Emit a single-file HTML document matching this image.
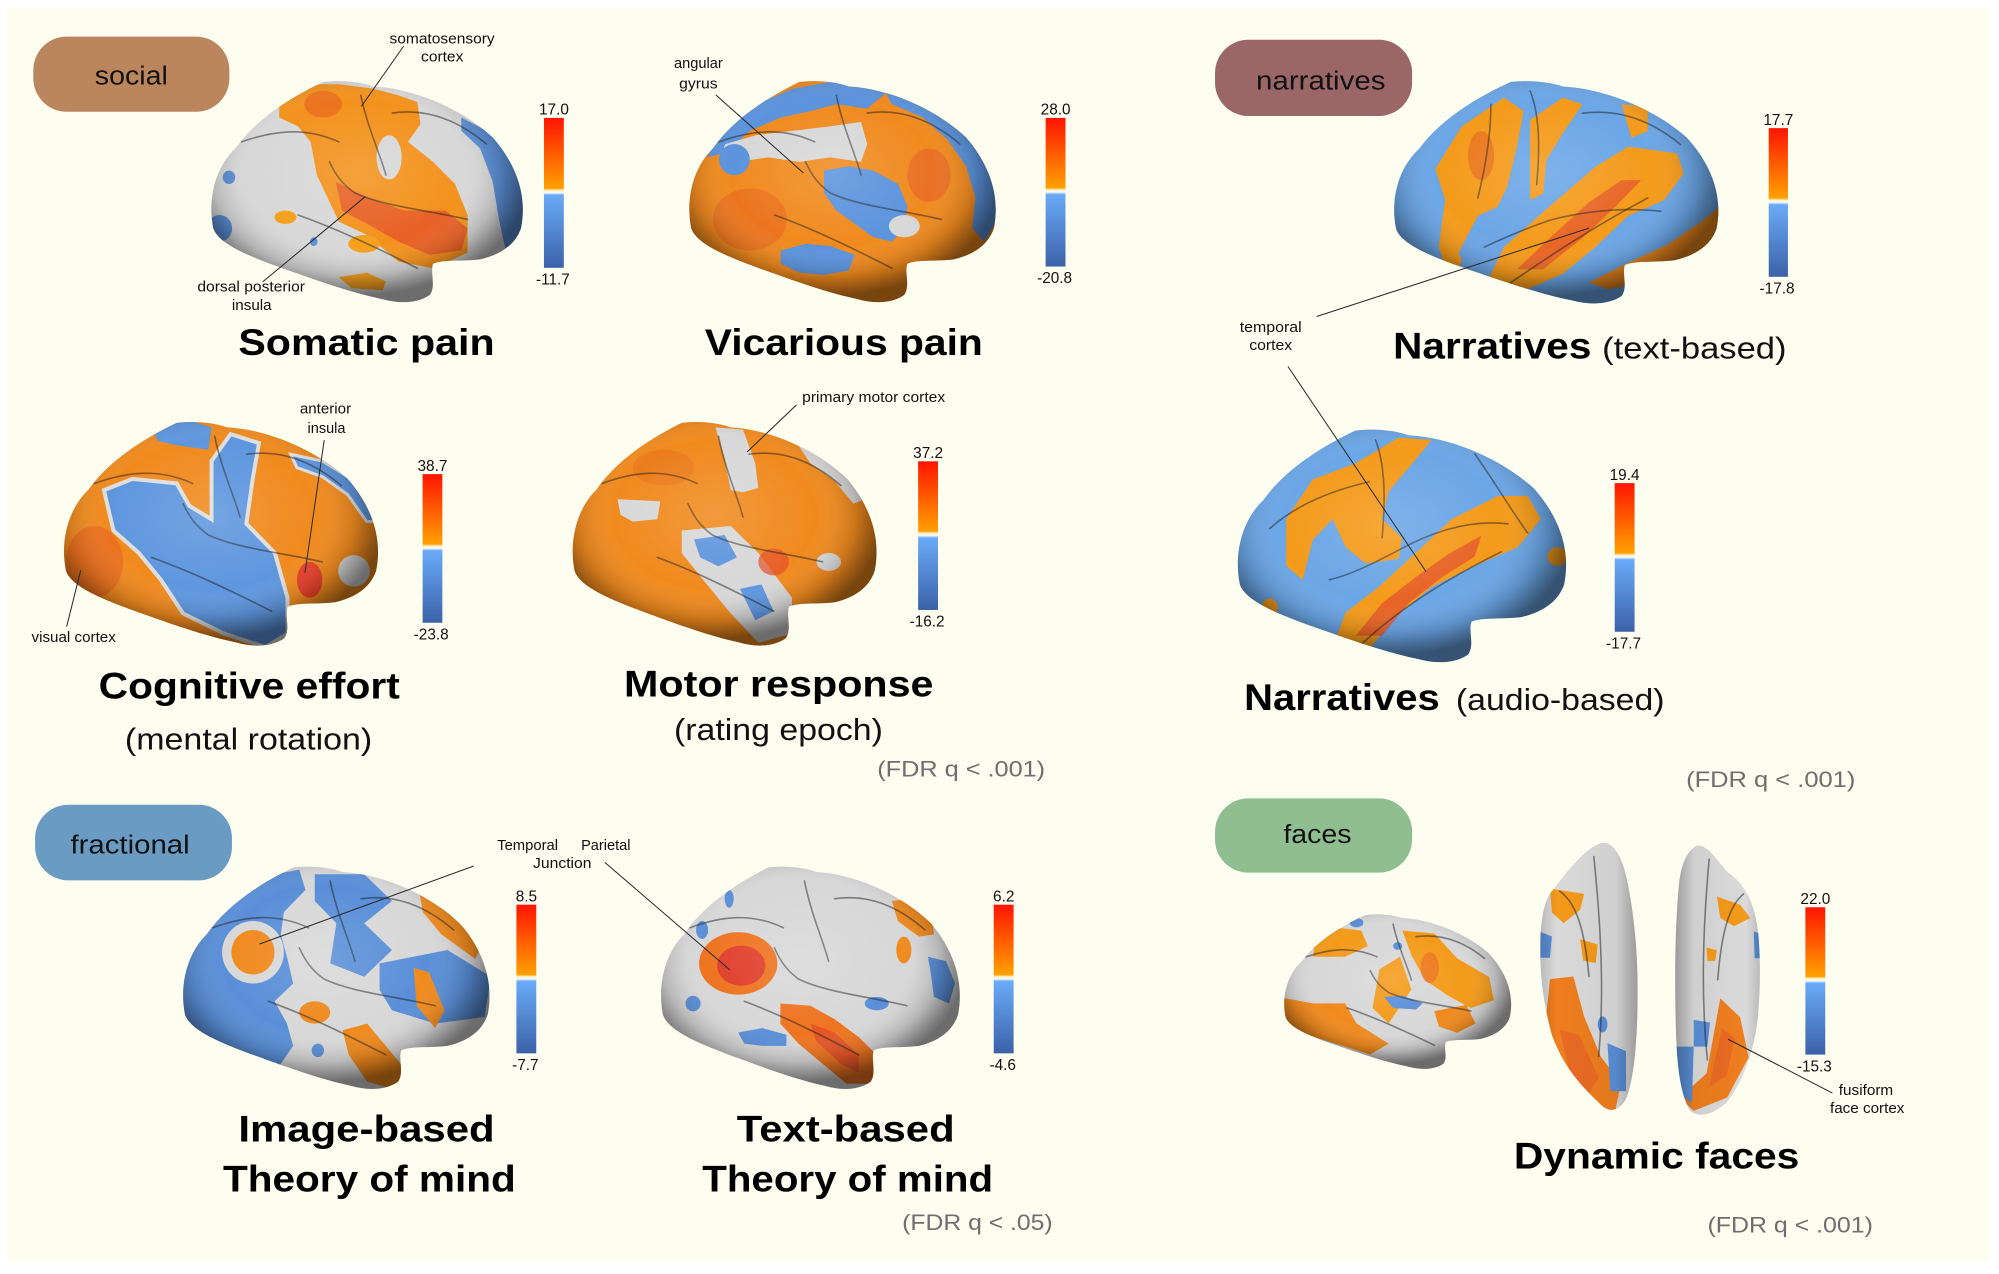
<!DOCTYPE html>
<html><head><meta charset="utf-8">
<style>
html,body{margin:0;padding:0;background:#fff;}
svg{display:block;}
text{font-family:"Liberation Sans",Arial,sans-serif;}
.s path{fill:none;stroke:#1c1c1c;stroke-opacity:.5;stroke-width:1.6;vector-effect:non-scaling-stroke;stroke-linecap:round;}
.ln{stroke:#2a2a2a;stroke-width:.8;fill:none;}
.ann{font-size:11.5px;fill:#111;}
.ttl{font-size:29px;font-weight:bold;fill:#000;}
.sub{font-size:24px;fill:#111;}
.fdr{font-size:17.5px;fill:#6e6e6e;}
.pill{font-size:20px;fill:#111;}
.cbl{font-size:12px;fill:#111;}
</style></head>
<body>
<svg width="1999" height="1274" viewBox="0 0 1560 994.2" preserveAspectRatio="none" xmlns="http://www.w3.org/2000/svg">
<defs>
<clipPath id="cl" clipPathUnits="userSpaceOnUse"><path d="M36,0 C42,-1 48,0 52,2 C65,3 80,12 90,25 C98,38 101,52 99,66 C97,74 92,78 86,80 C80,81 74,80 71,82 C70,86 72,92 70,96 C66,100 60,100 55,98 C45,95 35,90 27,86 C15,80 3,74 1,66 C-1,52 2,38 8,30 C14,18 24,8 36,0 Z"/></clipPath>
<clipPath id="cv1" clipPathUnits="userSpaceOnUse"><path d="M62,0 C72,-1 82,3 88,12 C96,25 100,40 100,55 C100,72 97,88 88,96 C80,101 70,101 62,98 C45,92 25,85 12,72 C3,60 0,50 0,40 C0,30 3,22 12,18 C25,12 45,2 62,0 Z"/></clipPath>
<clipPath id="cv2" clipPathUnits="userSpaceOnUse"><path d="M25,0 C15,2 8,6 5,14 C0,30 0,50 1,65 C2,80 5,92 18,99 C30,102 45,100 60,96 C75,90 90,80 96,66 C100,55 100,42 97,32 C92,20 80,14 62,10 C50,6 38,-1 25,0 Z"/></clipPath>
<radialGradient id="sh" cx=".47" cy=".42" r=".5">
<stop offset="0" stop-color="#fff" stop-opacity=".14"/>
<stop offset=".6" stop-color="#fff" stop-opacity="0"/>
<stop offset=".84" stop-color="#000" stop-opacity=".16"/>
<stop offset=".95" stop-color="#000" stop-opacity=".4"/>
<stop offset="1" stop-color="#000" stop-opacity=".5"/>
</radialGradient>
<linearGradient id="vsh" x1="0" y1="0" x2="1" y2="0">
<stop offset="0" stop-color="#000" stop-opacity=".2"/>
<stop offset=".2" stop-color="#000" stop-opacity="0"/>
<stop offset=".75" stop-color="#000" stop-opacity=".05"/>
<stop offset="1" stop-color="#000" stop-opacity=".35"/>
</linearGradient>
<linearGradient id="cb" x1="0" y1="0" x2="0" y2="1">
<stop offset="0" stop-color="#ff1400"/>
<stop offset=".47" stop-color="#ffa000"/>
<stop offset=".485" stop-color="#fff2cc"/>
<stop offset=".5" stop-color="#f4f8ff"/>
<stop offset=".515" stop-color="#6aaaf8"/>
<stop offset="1" stop-color="#3b62a8"/>
</linearGradient>
</defs>

<rect x="5.5" y="6.2" width="1547.5" height="978.6" fill="#fdfdf0"/>

<!-- pills -->
<rect x="26" y="28.6" width="153" height="58.6" rx="26" fill="#bb865d"/>
<text class="pill" x="74" y="66" textLength="57" lengthAdjust="spacingAndGlyphs">social</text>
<rect x="948.2" y="31" width="153.8" height="59.5" rx="26" fill="#9a6667"/>
<text class="pill" x="980.2" y="69.7" textLength="101" lengthAdjust="spacingAndGlyphs">narratives</text>
<rect x="27.4" y="628" width="153.6" height="59" rx="26" fill="#6a9bc3"/>
<text class="pill" x="55" y="666" textLength="93" lengthAdjust="spacingAndGlyphs">fractional</text>
<rect x="948.2" y="623" width="153.8" height="58" rx="26" fill="#8fbf91"/>
<text class="pill" x="1001.5" y="658" textLength="53.2" lengthAdjust="spacingAndGlyphs">faces</text>

<!-- Brain 1: Somatic pain -->
<g transform="translate(164,64) scale(2.45,1.73)">
<g clip-path="url(#cl)">
<rect x="-5" y="-5" width="110" height="110" fill="#d8d8d8"/>
<polygon fill="#f3921d" points="22,9 31,1 41,1 52,3 60,6 66,9 67,19 63,27 71,36 78,46 82,60 82,77 71,84 60,81 50,69 41,63 34,42 32,27 28,20 22,16"/>
<ellipse cx="57" cy="34" rx="4" ry="10" fill="#d8d8d8"/>
<polygon fill="#e4502a" opacity=".75" points="40,45 50,52 62,58 75,58 82,66 80,76 70,78 60,72 50,64 42,58"/>
<ellipse cx="36" cy="10" rx="6" ry="6" fill="#e8661e" opacity=".7"/>
<ellipse cx="24" cy="61" rx="3.5" ry="3" fill="#f5a01e"/>
<ellipse cx="49" cy="73" rx="5" ry="4" fill="#f5a01e"/>
<polygon fill="#f5a01e" points="41,88 50,86 56,90 55,94 45,93"/>
<polygon fill="#5b8fd6" points="80,16 88,22 95,32 99,45 100,60 98,72 94,75 92,62 90,45 86,30 80,22"/>
<ellipse cx="3" cy="66" rx="4" ry="6" fill="#5b8fd6"/>
<ellipse cx="6" cy="43" rx="2" ry="3" fill="#5b8fd6"/>
<ellipse cx="33" cy="72" rx="1.2" ry="2" fill="#5b8fd6"/>
<g class="s"><path d="M82,62 C70,58 55,56 46,50 C42,46 40,42 38,36"/><path d="M28,60 C40,66 52,74 66,84"/><path d="M10,27 C20,22 30,20 41,27"/><path d="M48,6 C50,20 54,32 56,42"/><path d="M58,14 C68,12 78,16 88,28"/></g>
<rect x="-5" y="-5" width="110" height="110" fill="url(#sh)"/>
</g></g>

<!-- Brain 2: Vicarious pain -->
<g transform="translate(537,64) scale(2.41,1.73)">
<g clip-path="url(#cl)">
<rect x="-5" y="-5" width="110" height="110" fill="#f08a1e"/>
<ellipse cx="20" cy="62" rx="12" ry="14" fill="#e8681e" opacity=".6"/>
<ellipse cx="78" cy="42" rx="7" ry="12" fill="#e4602a" opacity=".6"/>
<polygon fill="#5b93dc" points="6,34 12,20 22,10 34,3 46,0 58,1 64,5 58,12 48,10 40,13 30,16 20,22 12,32"/>
<polygon fill="#5b93dc" points="62,0 78,8 88,18 95,30 100,46 100,62 96,72 92,66 93,52 90,38 84,26 76,16 66,10"/>
<polygon fill="#d8d8d8" points="12,28 22,24 34,22 46,20 56,18 58,28 56,36 46,34 36,36 26,34 16,36 10,36"/>
<ellipse cx="15" cy="35" rx="5" ry="7" fill="#5b93dc"/>
<polygon fill="#5b93dc" points="44,40 52,38 60,40 68,46 71,56 70,66 66,72 60,70 54,64 48,58 44,50"/>
<ellipse cx="70" cy="65" rx="5" ry="5" fill="#d8d8d8"/>
<polygon fill="#5b93dc" points="30,76 38,73 46,74 54,78 52,85 44,87 36,86 30,82"/>
<g class="s"><path d="M82,62 C70,58 55,56 46,50 C42,46 40,42 38,36"/><path d="M28,60 C40,66 52,74 66,84"/><path d="M10,27 C20,22 30,20 41,27"/><path d="M48,6 C50,20 54,32 56,42"/><path d="M58,14 C68,12 78,16 88,28"/></g>
<rect x="-5" y="-5" width="110" height="110" fill="url(#sh)"/>
</g></g>

<!-- Brain 3: Narratives text -->
<g transform="translate(1087,64) scale(2.55,1.74)">
<g clip-path="url(#cl)">
<rect x="-5" y="-5" width="110" height="110" fill="#6ba6e6"/>
<polygon fill="#f49a1a" points="13,39 21,20 34,7 40,13 38,29 35,47 32,56 26,60 21,74 17,86 14,74 16,53"/>
<ellipse cx="27" cy="33" rx="4" ry="11" fill="#e8701e" opacity=".8"/>
<polygon fill="#f49a1a" points="42,17 52,7 58,10 52,23 47,35 46,50 42,53 42,35"/>
<polygon fill="#f49a1a" points="70,10 78,11 78,22 73,25"/>
<polygon fill="#f49a1a" points="29,89 34,74 47,57 62,38 72,29 87,32 89,41 83,53 72,60 62,74 52,86 41,93 32,95"/>
<polygon fill="#e4542a" opacity=".75" points="38,84 48,70 60,54 70,44 76,44 68,56 58,70 46,84"/>
<polygon fill="#f08a1e" points="60,90 72,81 84,73 94,63 100,56 100,74 92,81 78,89 66,93"/>
<ellipse cx="18" cy="80" rx="3" ry="4" fill="#f49a1a"/>
<g class="s"><path d="M82,58 C70,56 58,58 48,62 C40,66 34,70 28,74"/><path d="M34,92 C46,80 60,66 78,52"/><path d="M42,4 C45,15 45,30 44,46"/><path d="M30,10 C30,25 28,40 26,52"/><path d="M58,14 C68,12 78,16 88,28"/></g>
<rect x="-5" y="-5" width="110" height="110" fill="url(#sh)"/>
</g></g>

<!-- Brain 4: Narratives audio -->
<g transform="translate(965,336) scale(2.582,1.82)">
<g clip-path="url(#cl)">
<rect x="-5" y="-5" width="110" height="110" fill="#6ba6e6"/>
<polygon fill="#f49a1a" points="15,58 15,38 23,21 36,14 49,3 59,4 52,16 46,26 44,38 50,46 49,55 39,57 33,50 29,38 23,47 20,64"/>
<polygon fill="#f49a1a" points="29,93 33,78 43,67 56,50 65,38 79,28 88,28 92,38 85,50 72,58 59,67 47,81 39,96 31,98"/>
<polygon fill="#e4502a" opacity=".75" points="36,88 44,74 54,63 64,53 74,45 72,54 62,63 52,74 44,88"/>
<ellipse cx="97" cy="54" rx="3" ry="4" fill="#f49a1a"/>
<ellipse cx="10" cy="76" rx="2.5" ry="4" fill="#f49a1a"/>
<g class="s"><path d="M82,40 C70,38 58,44 48,52 C40,58 34,62 28,64"/><path d="M36,94 C46,80 60,66 80,52"/><path d="M42,4 C45,15 45,30 44,46"/><path d="M10,42 C18,32 28,26 40,22"/><path d="M72,10 C78,22 82,32 88,44"/></g>
<rect x="-5" y="-5" width="110" height="110" fill="url(#sh)"/>
</g></g>

<!-- Brain 5: Cognitive effort -->
<g transform="translate(49,330) scale(2.47,1.75)">
<g clip-path="url(#cl)">
<rect x="-5" y="-5" width="110" height="110" fill="#f08a1e"/>
<ellipse cx="10" cy="62" rx="9" ry="16" fill="#e8661e" opacity=".7"/>
<polygon fill="#5e96de" stroke="#dedede" stroke-width="4" vector-effect="non-scaling-stroke" points="13,30 22,25 36,27 40,37 47,43 47,17 53,5 62,9 60,25 58,45 67,58 71,78 71,94 64,100 51,94 38,85 31,70 24,58 16,48"/>
<polygon fill="#5e96de" points="28,2 40,-1 47,2 46,12 36,10 30,8"/>
<polygon fill="#5e96de" stroke="#dedede" stroke-width="3" vector-effect="non-scaling-stroke" points="72,14 82,17 90,24 97,34 99,44 96,44 90,32 82,24 74,20"/>
<ellipse cx="92" cy="66" rx="5" ry="7" fill="#d8d8d8"/>
<ellipse cx="78" cy="70" rx="4" ry="8" fill="#e4402a"/>
<g class="s"><path d="M82,62 C70,58 55,56 46,50 C42,46 40,42 38,36"/><path d="M28,60 C40,66 52,74 66,84"/><path d="M10,27 C20,22 30,20 41,27"/><path d="M48,6 C50,20 54,32 56,42"/><path d="M58,14 C68,12 78,16 88,28"/></g>
<rect x="-5" y="-5" width="110" height="110" fill="url(#sh)"/>
</g></g>

<!-- Brain 6: Motor response -->
<g transform="translate(446,330) scale(2.39,1.75)">
<g clip-path="url(#cl)">
<rect x="-5" y="-5" width="110" height="110" fill="#f08a1e"/>
<ellipse cx="30" cy="20" rx="10" ry="8" fill="#e8701e" opacity=".5"/>
<polygon fill="#d8d8d8" points="47,2 56,3 60,18 61,29 56,31 52,30 50,16"/>
<polygon fill="#d8d8d8" points="15,34 29,35 28,43 20,44 16,41"/>
<polygon fill="#d8d8d8" points="36,48 52,46 61,58 72,78 72,94 61,98 52,85 43,70 36,58"/>
<polygon fill="#5e96de" points="40,52 50,50 54,60 48,64 42,60"/>
<polygon fill="#5e96de" points="55,74 62,72 66,84 60,88"/>
<polygon fill="#d8d8d8" points="74,10 84,14 92,24 96,34 92,36 86,26 78,18"/>
<ellipse cx="84" cy="62" rx="4" ry="4" fill="#d8d8d8"/>
<ellipse cx="66" cy="62" rx="5" ry="6" fill="#e4502a" opacity=".7"/>
<g class="s"><path d="M82,62 C70,58 55,56 46,50 C42,46 40,42 38,36"/><path d="M28,60 C40,66 52,74 66,84"/><path d="M10,27 C20,22 30,20 41,27"/><path d="M48,6 C50,20 54,32 56,42"/><path d="M58,14 C68,12 78,16 88,28"/></g>
<rect x="-5" y="-5" width="110" height="110" fill="url(#sh)"/>
</g></g>

<!-- Brain 7: Image-based ToM -->
<g transform="translate(142,677) scale(2.41,1.74)">
<g clip-path="url(#cl)">
<rect x="-5" y="-5" width="110" height="110" fill="#d8d8d8"/>
<polygon fill="#5a8fd8" points="-2,35 6,18 18,8 30,3 38,1 40,10 33,20 32,30 34,40 36,52 30,60 34,70 36,80 30,92 18,86 6,80 -2,72"/>
<ellipse cx="23" cy="38" rx="10" ry="14" fill="#d8d8d8"/>
<ellipse cx="23" cy="38" rx="7" ry="10" fill="#f08a1e"/>
<polygon fill="#5a8fd8" points="43,3 59,3 68,15 59,25 68,37 59,49 48,43 50,25 43,15"/>
<polygon fill="#5a8fd8" points="64,43 86,37 100,49 98,67 82,70 68,64 64,55"/>
<polygon fill="#f08a1e" points="52,73 60,70 66,80 72,90 70,100 60,96 54,84"/>
<ellipse cx="43" cy="65" rx="5" ry="5" fill="#f08a1e"/>
<polygon fill="#f08a1e" points="77,12 86,20 97,35 95,41 84,30 78,20"/>
<polygon fill="#f08a1e" points="75,45 80,47 85,64 82,72 76,62"/>
<ellipse cx="44" cy="82" rx="2" ry="3" fill="#5a8fd8"/>
<g class="s"><path d="M82,62 C70,58 55,56 46,50 C42,46 40,42 38,36"/><path d="M28,60 C40,66 52,74 66,84"/><path d="M10,27 C20,22 30,20 41,27"/><path d="M48,6 C50,20 54,32 56,42"/><path d="M58,14 C68,12 78,16 88,28"/></g>
<rect x="-5" y="-5" width="110" height="110" fill="url(#sh)"/>
</g></g>

<!-- Brain 8: Text-based ToM -->
<g transform="translate(515,677) scale(2.35,1.74)">
<g clip-path="url(#cl)">
<rect x="-5" y="-5" width="110" height="110" fill="#d8d8d8"/>
<ellipse cx="26" cy="43" rx="13" ry="14" fill="#ee7420"/>
<ellipse cx="27" cy="44" rx="8" ry="9" fill="#e0402c"/>
<polygon fill="#ee7420" points="40,61 50,62 58,68 66,76 72,84 72,97 62,97 54,88 46,79 40,70"/>
<polygon fill="#e0482a" opacity=".7" points="50,70 58,74 66,84 66,92 60,88 52,78"/>
<polygon fill="#f08a1e" points="77,15 84,14 90,20 91,30 86,31 79,24"/>
<ellipse cx="81" cy="37" rx="2.5" ry="6" fill="#f08a1e"/>
<ellipse cx="14" cy="28" rx="2" ry="4" fill="#5a8fd8"/>
<polygon fill="#5a8fd8" points="26,74 34,72 42,75 42,80 34,80 28,79"/>
<ellipse cx="72" cy="61" rx="4" ry="3" fill="#5a8fd8"/>
<polygon fill="#5a8fd8" points="89,40 95,42 98,52 96,61 91,58 90,48"/>
<ellipse cx="11" cy="61" rx="2.5" ry="3.5" fill="#5a8fd8"/>
<ellipse cx="23" cy="14" rx="1.5" ry="4" fill="#5a8fd8"/>
<g class="s"><path d="M82,62 C70,58 55,56 46,50 C42,46 40,42 38,36"/><path d="M28,60 C40,66 52,74 66,84"/><path d="M10,27 C20,22 30,20 41,27"/><path d="M48,6 C50,20 54,32 56,42"/><path d="M58,14 C68,12 78,16 88,28"/></g>
<rect x="-5" y="-5" width="110" height="110" fill="url(#sh)"/>
</g></g>

<!-- Brain 9: Faces lateral -->
<g transform="translate(1001.5,714) scale(1.785,1.21)">
<g clip-path="url(#cl)">
<rect x="-5" y="-5" width="110" height="110" fill="#d8d8d8"/>
<polygon fill="#f08a1e" points="-2,53 13,57 27,57 32,70 46,83 38,90 25,84 12,78 6,74 -2,68"/>
<polygon fill="#f49a1a" points="14,14 22,8 34,10 37,20 27,27 13,27"/>
<polygon fill="#f49a1a" points="42,35 51,27 56,48 46,70 39,60"/>
<polygon fill="#f49a1a" points="52,10 66,12 76,28 90,40 92,55 82,60 72,52 62,42 56,26"/>
<polygon fill="#f08a1e" points="66,62 80,58 84,70 76,76 68,72"/>
<ellipse cx="64" cy="34" rx="4" ry="10" fill="#e8661e" opacity=".6"/>
<ellipse cx="32" cy="5" rx="3" ry="3" fill="#5a8fd8"/>
<polygon fill="#5a8fd8" points="44,53 52,52 61,57 58,61 48,60"/>
<ellipse cx="50" cy="20" rx="2" ry="2.5" fill="#5a8fd8"/>
<g class="s"><path d="M82,62 C70,58 55,56 46,50 C42,46 40,42 38,36"/><path d="M28,60 C40,66 52,74 66,84"/><path d="M10,27 C20,22 30,20 41,27"/><path d="M48,6 C50,20 54,32 56,42"/><path d="M58,14 C68,12 78,16 88,28"/></g>
<rect x="-5" y="-5" width="110" height="110" fill="url(#sh)"/>
</g></g>

<!-- Ventral 1 -->
<g transform="translate(1202,658) scale(.76,2.08)">
<g clip-path="url(#cv1)">
<rect x="-5" y="-5" width="110" height="110" fill="#dadada"/>
<polygon fill="#ef7e1e" points="10,51 34,50 45,65 62,80 83,90 76,102 52,99 28,92 10,82 6,65"/>
<polygon fill="#e4582a" opacity=".5" points="20,70 40,72 60,88 50,94 30,86"/>
<polygon fill="#f49a1a" points="10,17 45,19 41,25 24,30 12,26"/>
<polygon fill="#f49a1a" points="41,36 59,38 57,45 44,44"/>
<polygon fill="#5a8fd8" points="69,75 88,78 88,93 72,93"/>
<ellipse cx="64" cy="68" rx="5" ry="3" fill="#5a8fd8"/>
<polygon fill="#5a8fd8" points="-2,33 12,35 10,43 -2,43"/>
<g class="s"><path d="M55,5 C62,30 66,55 60,80"/><path d="M20,18 C35,22 45,30 50,50"/></g>
<rect x="-5" y="-5" width="110" height="110" fill="url(#vsh)"/>
</g></g>

<!-- Ventral 2 -->
<g transform="translate(1307,660) scale(.67,2.09)">
<g clip-path="url(#cv2)">
<rect x="-5" y="-5" width="110" height="110" fill="#dadada"/>
<polygon fill="#ef7e1e" points="53,57 76,64 86,79 61,94 22,99 6,94 37,85 45,71"/>
<polygon fill="#e4582a" opacity=".5" points="55,68 70,72 60,86 40,90"/>
<polygon fill="#f49a1a" points="49,19 76,22 88,27 69,30 53,27"/>
<polygon fill="#f49a1a" points="37,38 49,39 47,43 38,43"/>
<polygon fill="#5a8fd8" points="22,65 41,66 38,75 22,75"/>
<polygon fill="#5a8fd8" points="0,75 22,75 20,96 2,92"/>
<polygon fill="#5a8fd8" points="92,32 102,33 102,42 93,42"/>
<g class="s"><path d="M40,5 C33,30 30,55 38,80"/><path d="M80,18 C65,22 55,30 50,50"/></g>
<rect x="-5" y="-5" width="110" height="110" fill="url(#vsh)" transform="translate(100,0) scale(-1,1)"/>
</g></g>

<!-- colorbars -->
<g fill="url(#cb)">
<rect x="424.5" y="92" width="15.5" height="117"/>
<rect x="816" y="92" width="15.5" height="116"/>
<rect x="1380.3" y="100" width="15" height="116"/>
<rect x="1260.1" y="377" width="15.5" height="116"/>
<rect x="329.8" y="370" width="15.4" height="116"/>
<rect x="716.5" y="360" width="15.5" height="116"/>
<rect x="403" y="706" width="15.5" height="116"/>
<rect x="775.5" y="706" width="15.5" height="116"/>
<rect x="1408.9" y="708" width="15.5" height="115"/>
</g>
<g class="cbl" text-anchor="middle">
<text x="432.3" y="89.5">17.0</text><text x="431.5" y="222">-11.7</text>
<text x="823.8" y="89.5">28.0</text><text x="823" y="221">-20.8</text>
<text x="1387.8" y="97.5">17.7</text><text x="1386.8" y="229">-17.8</text>
<text x="1267.8" y="374.5">19.4</text><text x="1267" y="506">-17.7</text>
<text x="337.5" y="367.5">38.7</text><text x="336.5" y="499">-23.8</text>
<text x="724.3" y="357.5">37.2</text><text x="723.5" y="489">-16.2</text>
<text x="410.8" y="703.5">8.5</text><text x="410" y="835">-7.7</text>
<text x="783.3" y="703.5">6.2</text><text x="782.5" y="835">-4.6</text>
<text x="1416.7" y="705.5">22.0</text><text x="1415.9" y="836">-15.3</text>
</g>

<!-- annotation lines -->
<g class="ln">
<line x1="315" y1="36" x2="282" y2="83"/>
<line x1="205" y1="220" x2="285" y2="153.5"/>
<line x1="558.6" y1="74" x2="627" y2="135"/>
<line x1="253" y1="343.5" x2="238" y2="447"/>
<line x1="52" y1="489" x2="63" y2="445"/>
<line x1="621.6" y1="316" x2="583" y2="352.7"/>
<line x1="369.7" y1="675.8" x2="202.6" y2="736.7"/>
<line x1="472" y1="673" x2="569.6" y2="757"/>
<line x1="1027.5" y1="247" x2="1240" y2="178"/>
<line x1="1005.1" y1="286" x2="1112.8" y2="446"/>
<line x1="1430" y1="853" x2="1348.6" y2="811"/>
</g>

<!-- annotation texts -->
<g class="ann">
<text x="304" y="34" textLength="82" lengthAdjust="spacingAndGlyphs">somatosensory</text>
<text x="328.6" y="48" textLength="33" lengthAdjust="spacingAndGlyphs">cortex</text>
<text x="154" y="227.6" textLength="84" lengthAdjust="spacingAndGlyphs">dorsal posterior</text>
<text x="181" y="242" textLength="31" lengthAdjust="spacingAndGlyphs">insula</text>
<text x="526" y="53" textLength="38" lengthAdjust="spacingAndGlyphs">angular</text>
<text x="530" y="69" textLength="30" lengthAdjust="spacingAndGlyphs">gyrus</text>
<text x="234" y="322.6" textLength="40" lengthAdjust="spacingAndGlyphs">anterior</text>
<text x="240" y="338" textLength="29.6" lengthAdjust="spacingAndGlyphs">insula</text>
<text x="24.6" y="501" textLength="65.8" lengthAdjust="spacingAndGlyphs">visual cortex</text>
<text x="626" y="313.6" textLength="111.6" lengthAdjust="spacingAndGlyphs">primary motor cortex</text>
<text x="388" y="663.3" textLength="47.5" lengthAdjust="spacingAndGlyphs">Temporal</text>
<text x="453.5" y="663.3" textLength="38.5" lengthAdjust="spacingAndGlyphs">Parietal</text>
<text x="416" y="677.5" textLength="45.6" lengthAdjust="spacingAndGlyphs">Junction</text>
<text x="967.5" y="259" textLength="48.3" lengthAdjust="spacingAndGlyphs">temporal</text>
<text x="974.9" y="273" textLength="33.5" lengthAdjust="spacingAndGlyphs">cortex</text>
<text x="1435" y="854.6" textLength="42.4" lengthAdjust="spacingAndGlyphs">fusiform</text>
<text x="1428.1" y="868.7" textLength="58.1" lengthAdjust="spacingAndGlyphs">face cortex</text>
</g>

<!-- titles -->
<text class="ttl" x="186" y="277" textLength="200" lengthAdjust="spacingAndGlyphs">Somatic pain</text>
<text class="ttl" x="550" y="277" textLength="217" lengthAdjust="spacingAndGlyphs">Vicarious pain</text>
<text class="ttl" x="77" y="545" textLength="235" lengthAdjust="spacingAndGlyphs">Cognitive effort</text>
<text class="sub" x="97.5" y="585" textLength="193" lengthAdjust="spacingAndGlyphs">(mental rotation)</text>
<text class="ttl" x="487" y="543.6" textLength="241.5" lengthAdjust="spacingAndGlyphs">Motor response</text>
<text class="sub" x="526" y="577.5" textLength="163" lengthAdjust="spacingAndGlyphs">(rating epoch)</text>
<text class="fdr" x="684.6" y="606" textLength="131" lengthAdjust="spacingAndGlyphs">(FDR q &lt; .001)</text>

<text class="ttl" x="1087.2" y="279.7" textLength="154.7" lengthAdjust="spacingAndGlyphs">Narratives</text>
<text class="sub" x="1250.3" y="279.7" textLength="143.9" lengthAdjust="spacingAndGlyphs">(text-based)</text>
<text class="ttl" x="970.9" y="554" textLength="152.7" lengthAdjust="spacingAndGlyphs">Narratives</text>
<text class="sub" x="1136.2" y="554" textLength="162.8" lengthAdjust="spacingAndGlyphs">(audio-based)</text>
<text class="fdr" x="1315.8" y="614" textLength="132.1" lengthAdjust="spacingAndGlyphs">(FDR q &lt; .001)</text>

<text class="ttl" x="186" y="891" textLength="200" lengthAdjust="spacingAndGlyphs">Image-based</text>
<text class="ttl" x="174" y="930" textLength="228.5" lengthAdjust="spacingAndGlyphs">Theory of mind</text>
<text class="ttl" x="575" y="891" textLength="170" lengthAdjust="spacingAndGlyphs">Text-based</text>
<text class="ttl" x="548" y="930" textLength="227" lengthAdjust="spacingAndGlyphs">Theory of mind</text>
<text class="fdr" x="704" y="960" textLength="117.5" lengthAdjust="spacingAndGlyphs">(FDR q &lt; .05)</text>

<text class="ttl" x="1181.4" y="911.7" textLength="222.8" lengthAdjust="spacingAndGlyphs">Dynamic faces</text>
<text class="fdr" x="1332.5" y="962" textLength="129.1" lengthAdjust="spacingAndGlyphs">(FDR q &lt; .001)</text>
</svg>
</body></html>
